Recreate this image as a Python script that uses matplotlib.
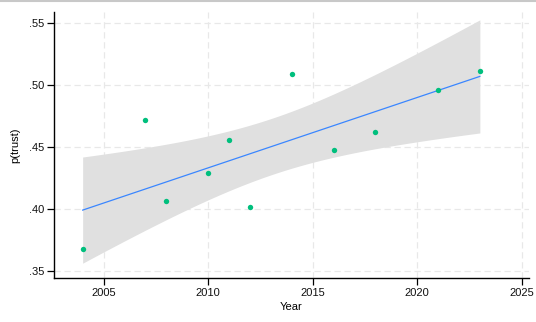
import numpy as np
import matplotlib
matplotlib.use("Agg")
import matplotlib.pyplot as plt
from matplotlib.lines import Line2D

years = [2004, 2007, 2008, 2010, 2011, 2012, 2014, 2016, 2018, 2021, 2023]
ptrust = [0.3675, 0.4715, 0.4067, 0.4287, 0.4559, 0.4016, 0.5089, 0.4478, 0.4618, 0.4954, 0.5107]
xticks = [2005, 2010, 2015, 2020, 2025]
yticks = [0.35, 0.40, 0.45, 0.50, 0.55]
ytick_labels = [".35", ".40", ".45", ".50", ".55"]

plt.rcParams['font.family'] = ['Liberation Sans', 'DejaVu Sans']

x = np.array(years, dtype=float)
y = np.array(ptrust)
n = len(x)
b, a = np.polyfit(x, y, 1)
resid = y - (a + b * x)
s = np.sqrt(np.sum(resid**2) / (n - 2))
xg = np.linspace(x.min(), x.max(), 200)
yg = a + b * xg
sxx = np.sum((x - x.mean())**2)
se = s * np.sqrt(1.0 / n + (xg - x.mean())**2 / sxx)
tcrit = 2.262  # t(0.975, 9)
lo, hi = yg - tcrit * se, yg + tcrit * se

fig = plt.figure(figsize=(5.36, 3.22), dpi=100)
ax = fig.add_axes([54/536, 1 - 278/322, (529-54)/536, (278-12)/322])

ax.fill_between(xg, lo, hi, color='#e0e0e0', linewidth=0, zorder=1)
ax.plot(xg, yg, color='#3a86ff', linewidth=0.9, zorder=2)
ax.scatter(x, y, s=15, color='#00bf7d', zorder=3, linewidths=0)

ax.set_xlim(2002.63, 2025.35)
ax.set_ylim(0.3444, 0.5586)
ax.set_xticks(xticks)
ax.set_xticklabels([str(t) for t in xticks], fontsize=8)
ax.set_yticks(yticks)
ax.set_yticklabels(ytick_labels, fontsize=8)
ax.grid(True, color='#e8e8e8', linestyle=(0, (5, 3)), linewidth=0.9, zorder=0)
ax.set_axisbelow(True)
for sp in ['top', 'right']:
    ax.spines[sp].set_visible(False)
for sp in ['left', 'bottom']:
    ax.spines[sp].set_linewidth(1.0)
    ax.spines[sp].set_color('black')
ax.tick_params(axis='both', length=5, width=0.9, pad=2, colors='black', labelcolor='#111111')
ax.set_xlabel("Year", fontsize=8, labelpad=3)
ax.set_ylabel("p(trust)", fontsize=8, labelpad=6)

fig.add_artist(Line2D([0, 1], [1 - 0.5/322, 1 - 0.5/322], transform=fig.transFigure, color='#c8c8c8', linewidth=1.5))

fig.savefig("out.png", dpi=100)
